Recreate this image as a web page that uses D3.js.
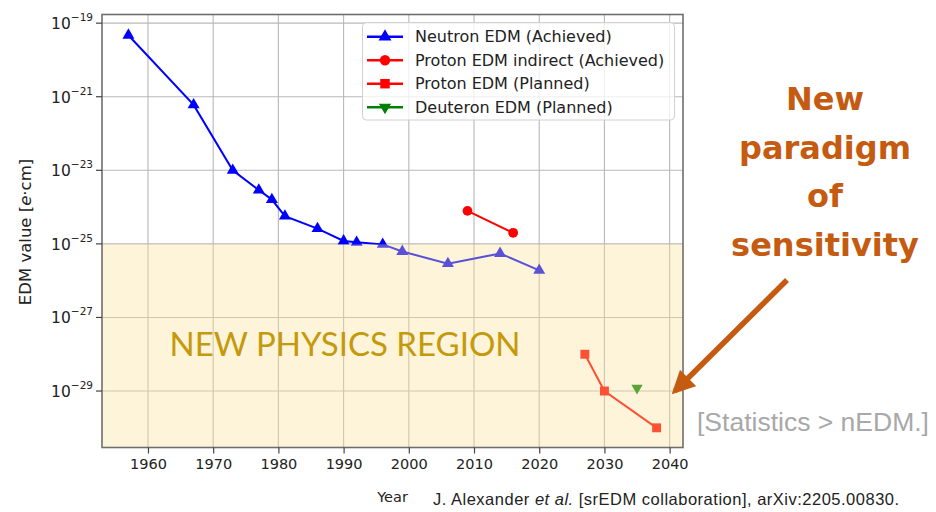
<html lang="en">
<head>
<meta charset="UTF-8">
<title>EDM limits</title>
<script src="https://d3js.org/d3.v7.min.js"></script>
<style>
  body { margin: 0; background: #fff; }
  text { font-family: "DejaVu Sans", sans-serif; }
</style>
</head>
<body>
<script>
    const w = 936;
    const h = 512;

    // neutron EDM (achieved)
    const nYear = [1957, 1967, 1973, 1977, 1979, 1981, 1986, 1990, 1992, 1996, 1999, 2006, 2014, 2020];
    const nEdm = [4.7e-20, 6e-22, 1e-23, 2.9e-24, 1.6e-24, 5.7e-25, 2.6e-25, 1.2e-25, 1.1e-25, 9.7e-26, 6.2e-26, 2.9e-26, 5.5e-26, 1.9e-26];
    // proton EDM indirect (achieved)
    const pIndYear = [2009, 2016];
    const pIndEdm = [7.9e-25, 2e-25];
    // proton EDM (planned)
    const pPlanYear = [2027, 2030, 2038];
    const pPlanEdm = [1e-28, 1e-29, 1e-30];
    // deuteron EDM (planned)
    const dYear = [2035];
    const dEdm = [1.2e-29];

    const seriesNames = ["Neutron EDM (Achieved)", "Proton EDM indirect (Achieved)", "Proton EDM (Planned)", "Deuteron EDM (Planned)"];
    const xTicks = [1960, 1970, 1980, 1990, 2000, 2010, 2020, 2030, 2040];
    const yExp = [-19, -21, -23, -25, -27, -29];
    const regionLimit = 1e-25;

    const plot = { left: 102, right: 683, top: 14.5, bottom: 447.5 };

    const x = d3.scaleLinear().domain([1952.95, 2042.05]).range([plot.left, plot.right]);
    const y = d3.scaleLog().domain([Math.pow(10, -18.765), Math.pow(10, -30.535)]).range([plot.top, plot.bottom]);

    const svg = d3.select("body").append("svg")
        .attr("width", w)
        .attr("height", h);

    svg.append("rect").attr("width", w).attr("height", h).attr("fill", "#fff");

    // grid
    const grid = svg.append("g");
    grid.selectAll("line.gx")
        .data(xTicks)
        .enter()
        .append("line")
        .attr("x1", d => x(d)).attr("x2", d => x(d))
        .attr("y1", plot.top).attr("y2", plot.bottom)
        .attr("stroke", "#b8b8b8").attr("stroke-width", 1.1);
    grid.selectAll("line.gy")
        .data(yExp)
        .enter()
        .append("line")
        .attr("x1", plot.left).attr("x2", plot.right)
        .attr("y1", d => y(Math.pow(10, d))).attr("y2", d => y(Math.pow(10, d)))
        .attr("stroke", "#b8b8b8").attr("stroke-width", 1.1);

    const series = [
        { xs: nYear, ys: nEdm, color: "#0000ff", symbol: d3.symbolTriangle, size: 62, rot: 0 },
        { xs: pIndYear, ys: pIndEdm, color: "#ff0000", symbol: d3.symbolCircle, size: 75, rot: 0 },
        { xs: pPlanYear, ys: pPlanEdm, color: "#ff0000", symbol: d3.symbolSquare, size: 80, rot: 0 },
        { xs: dYear, ys: dEdm, color: "#008000", symbol: d3.symbolTriangle, size: 55, rot: 180 }
    ];

    const line = d3.line().x(d => x(d[0])).y(d => y(d[1]));

    series.forEach(s => {
        const pts = s.xs.map((v, i) => [v, s.ys[i]]);
        if (pts.length > 1) {
            svg.append("path")
                .attr("d", line(pts))
                .attr("fill", "none")
                .attr("stroke", s.color)
                .attr("stroke-width", 2);
        }
        svg.selectAll(null)
            .data(pts)
            .enter()
            .append("path")
            .attr("d", d3.symbol().type(s.symbol).size(s.size))
            .attr("transform", d => "translate(" + x(d[0]) + "," + y(d[1]) + ") rotate(" + s.rot + ")")
            .attr("fill", s.color);
    });

    // new physics region shading, drawn over the marks like an alpha fill
    svg.append("rect")
        .attr("x", plot.left)
        .attr("y", y(regionLimit) + 0.5)
        .attr("width", plot.right - plot.left)
        .attr("height", plot.bottom - y(regionLimit) - 0.5)
        .attr("fill", "rgb(250,224,150)")
        .attr("opacity", 0.36);

    svg.append("text")
        .attr("x", 345).attr("y", 356)
        .attr("text-anchor", "middle")
        .style("font-family", "Lato, 'Open Sans', sans-serif")
        .style("font-size", "33px")
        .attr("fill", "#c49a0c")
        .text("NEW PHYSICS REGION");

    // frame
    svg.append("rect")
        .attr("x", plot.left).attr("y", plot.top)
        .attr("width", plot.right - plot.left).attr("height", plot.bottom - plot.top)
        .attr("fill", "none").attr("stroke", "#6e6e6e").attr("stroke-width", 1.6);

    // x axis
    const xAxis = svg.append("g")
        .attr("transform", "translate(0," + plot.bottom + ")")
        .call(d3.axisBottom(x).tickValues(xTicks).tickSize(6).tickPadding(5).tickFormat(d3.format("d")));
    xAxis.select(".domain").remove();
    xAxis.selectAll(".tick line").attr("stroke", "#444").attr("stroke-width", 1.2);
    xAxis.selectAll(".tick text").style("font-size", "14.5px").attr("fill", "#222")
        .style("font-family", "'DejaVu Sans', sans-serif");

    svg.append("text")
        .attr("x", (plot.left + plot.right) / 2).attr("y", 502)
        .attr("text-anchor", "middle")
        .style("font-size", "14.5px").attr("fill", "#222")
        .text("Year");

    // y axis
    const yt = svg.append("g");
    yt.selectAll("line")
        .data(yExp)
        .enter()
        .append("line")
        .attr("x1", plot.left - 6).attr("x2", plot.left)
        .attr("y1", d => y(Math.pow(10, d))).attr("y2", d => y(Math.pow(10, d)))
        .attr("stroke", "#444").attr("stroke-width", 1.2);
    const lab = yt.selectAll("text")
        .data(yExp)
        .enter()
        .append("text")
        .attr("x", 93)
        .attr("y", d => y(Math.pow(10, d)) + 6)
        .attr("text-anchor", "end")
        .attr("fill", "#222")
        .style("font-size", "15.5px");
    lab.append("tspan").text("10");
    lab.append("tspan").attr("dy", -8).style("font-size", "10.5px").text(d => "\u2212" + (-d));

    svg.append("text")
        .attr("transform", "translate(31,232) rotate(-90)")
        .attr("text-anchor", "middle")
        .style("font-size", "16.5px").attr("fill", "#222")
        .html("EDM value [<tspan font-style='italic'>e</tspan>\u00b7cm]");

    // legend
    const lg = svg.append("g");
    lg.append("rect")
        .attr("x", 362.5).attr("y", 22.5).attr("width", 312).attr("height", 97.5)
        .attr("rx", 4)
        .attr("fill", "#fff").attr("fill-opacity", 0.78)
        .attr("stroke", "#d0d0d0").attr("stroke-width", 1);
    series.forEach((s, i) => {
        const ly = 36.7 + i * 23.5;
        lg.append("line")
            .attr("x1", 367).attr("x2", 403).attr("y1", ly).attr("y2", ly)
            .attr("stroke", s.color).attr("stroke-width", 2.5);
        lg.append("path")
            .attr("d", d3.symbol().type(s.symbol).size(s.size + 10))
            .attr("transform", "translate(385," + ly + ") rotate(" + s.rot + ")")
            .attr("fill", s.color);
        lg.append("text")
            .attr("x", 415).attr("y", ly + 5.5)
            .style("font-size", "16px").attr("fill", "#222")
            .text(seriesNames[i]);
    });

    // annotation on the right
    const note = ["New", "paradigm", "of", "sensitivity"];
    svg.selectAll("text.note")
        .data(note)
        .enter()
        .append("text")
        .attr("class", "note")
        .attr("x", 825)
        .attr("y", (d, i) => 110 + i * 48.5)
        .attr("text-anchor", "middle")
        .style("font-size", "32px").style("font-weight", "bold")
        .attr("fill", "#c55a11")
        .text(d => d);

    svg.append("defs").append("marker")
        .attr("id", "head")
        .attr("viewBox", "0 0 10 10")
        .attr("refX", 8).attr("refY", 5)
        .attr("markerWidth", 4.2).attr("markerHeight", 4.2)
        .attr("markerUnits", "strokeWidth")
        .attr("orient", "auto")
        .append("path")
        .attr("d", "M0,0 L10,5 L0,10 z")
        .attr("fill", "#c55a11");

    svg.append("line")
        .attr("x1", 787).attr("y1", 280)
        .attr("x2", 675).attr("y2", 391)
        .attr("stroke", "#c55a11").attr("stroke-width", 5.5)
        .attr("marker-end", "url(#head)");

    svg.append("text")
        .attr("x", 697).attr("y", 431)
        .style("font-family", "'Liberation Sans', Arial, sans-serif")
        .style("font-size", "26.5px")
        .attr("fill", "#a8a8a8")
        .text("[Statistics > nEDM.]");

    svg.append("text")
        .attr("x", 433).attr("y", 505)
        .style("font-family", "'Liberation Sans', Arial, sans-serif")
        .style("font-size", "16.5px")
        .style("letter-spacing", "0.5px")
        .attr("fill", "#222")
        .html("J. Alexander <tspan font-style='italic'>et al.</tspan> [srEDM collaboration], arXiv:2205.00830.");
</script>
</body>
</html>
